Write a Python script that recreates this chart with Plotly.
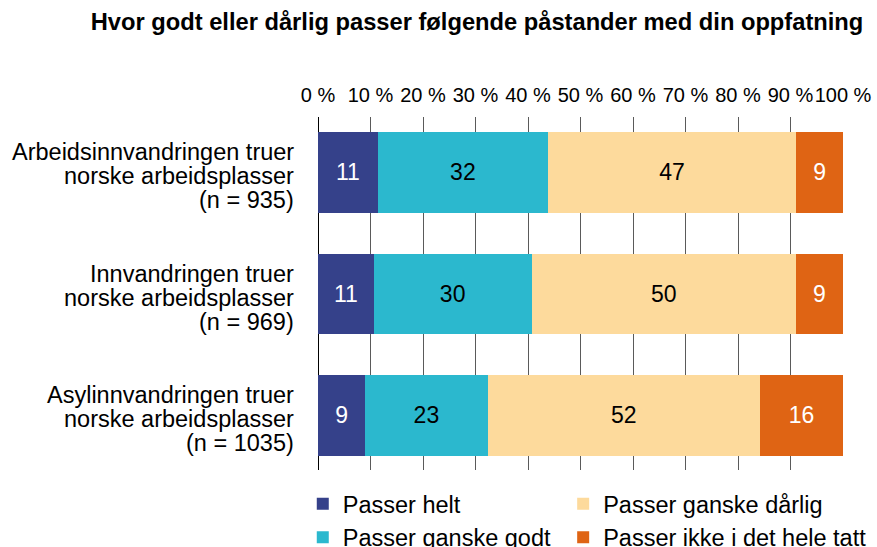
import plotly.graph_objects as go

categories = [
    ["Arbeidsinnvandringen truer", "norske arbeidsplasser", "(n = 935)"],
    ["Innvandringen truer", "norske arbeidsplasser", "(n = 969)"],
    ["Asylinnvandringen truer", "norske arbeidsplasser", "(n = 1035)"],
]
cat_keys = ["Arbeidsinnvandringen", "Innvandringen", "Asylinnvandringen"]

series_names = ["Passer helt", "Passer ganske godt", "Passer ganske dårlig", "Passer ikke i det hele tatt"]
passer_helt = [11.4, 10.6, 9.0]
passer_ganske_godt = [32.4, 30.1, 23.3]
passer_ganske_darlig = [47.3, 50.3, 51.9]
passer_ikke = [8.9, 9.0, 15.8]
labels_helt = ["11", "11", "9"]
labels_godt = ["32", "30", "23"]
labels_darlig = ["47", "50", "52"]
labels_ikke = ["9", "9", "16"]

tick_vals = [0, 10, 20, 30, 40, 50, 60, 70, 80, 90, 100]
tick_text = ["0 %", "10 %", "20 %", "30 %", "40 %", "50 %", "60 %", "70 %", "80 %", "90 %", "100 %"]

colors = ["#35418a", "#2bb8ce", "#fdda9c", "#df6414"]
text_colors = ["white", "black", "black", "white"]
legends = ["legend", "legend", "legend2", "legend2"]

FONT = "Liberation Sans, Arial, sans-serif"

fig = go.Figure()
for name, vals, labs, col, tcol, lg in zip(
    series_names,
    [passer_helt, passer_ganske_godt, passer_ganske_darlig, passer_ikke],
    [labels_helt, labels_godt, labels_darlig, labels_ikke],
    colors, text_colors, legends,
):
    fig.add_trace(go.Bar(
        y=cat_keys, x=vals, orientation="h", name=name,
        marker=dict(color=col, line=dict(width=0)),
        text=labs, textposition="inside", insidetextanchor="middle",
        textangle=0, constraintext="none",
        textfont=dict(color=tcol, size=23, family=FONT),
        legend=lg, hoverinfo="name+x",
    ))

annotations = []
for key, lines in zip(cat_keys, categories):
    for i, line in enumerate(lines):
        annotations.append(dict(
            xref="paper", yref="y", x=0, y=key, xshift=-22,
            yshift=20 - 24 * i, xanchor="right", yanchor="middle",
            text=line, showarrow=False,
            font=dict(size=23.5, family=FONT, color="black"),
        ))

fig.update_layout(
    width=877, height=547,
    margin=dict(l=318, r=34, t=117, b=77, autoexpand=False),
    paper_bgcolor="white", plot_bgcolor="white",
    barmode="stack", bargap=0.338,
    font=dict(family=FONT, color="black"),
    title=dict(
        text="<b>Hvor godt eller dårlig passer følgende påstander med din oppfatning</b>",
        x=477 / 877, xref="container", xanchor="center",
        y=1 - 22 / 547, yref="container", yanchor="middle",
        font=dict(size=23.7, family=FONT, color="black"),
    ),
    xaxis=dict(
        side="top", range=[0, 100], tickvals=tick_vals, ticktext=tick_text,
        tickangle=0,
        showgrid=True, gridcolor="#5a5a5a", gridwidth=1,
        zeroline=True, zerolinecolor="black", zerolinewidth=1,
        showline=False, ticks="", ticklabelstandoff=10,
        tickfont=dict(size=20, family=FONT, color="black"),
        automargin=False, fixedrange=True,
    ),
    yaxis=dict(
        categoryorder="array", categoryarray=cat_keys,
        range=[2.45, -0.455], showticklabels=False, showgrid=False,
        zeroline=False, showline=False, ticks="", automargin=False,
        fixedrange=True,
    ),
    legend=dict(
        x=-0.029, y=-0.034, xanchor="left", yanchor="top",
        orientation="v", tracegroupgap=0, traceorder="normal",
        font=dict(size=23.5, family=FONT, color="black"),
        bgcolor="rgba(0,0,0,0)",
    ),
    legend2=dict(
        x=0.467, y=-0.034, xanchor="left", yanchor="top",
        orientation="v", tracegroupgap=0, traceorder="normal",
        font=dict(size=23.5, family=FONT, color="black"),
        bgcolor="rgba(0,0,0,0)",
    ),
    annotations=annotations,
    showlegend=True,
)

fig.write_html(
    "out.html",
    config={"displayModeBar": False},
    post_script="document.body.style.margin='0';document.body.style.overflow='hidden';",
)
